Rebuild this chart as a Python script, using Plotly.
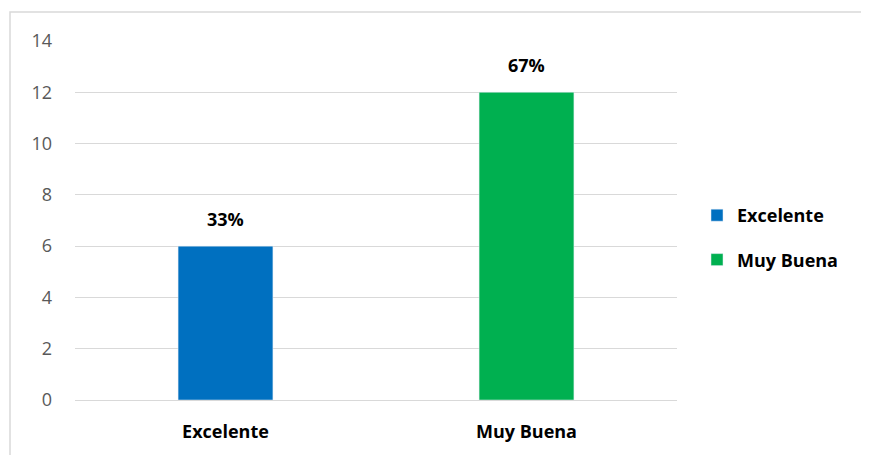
import plotly.graph_objects as go

categories = ["Excelente", "Muy Buena"]
values = [6, 12]
labels = ["33%", "67%"]
colors = ["#0070C0", "#00B050"]

W, H = 869, 455
OFF = 8  # page offset of the figure in the screenshot
L, R, T, B = 75 - OFF, 192 + OFF, 41 - OFF, 55 + OFF
pw = W - L - R
ph = H - T - B
FS = 18

fig = go.Figure()
for c, v, col in zip(categories, values, colors):
    fig.add_trace(go.Bar(
        x=[c], y=[v], name=c, marker_color=col, width=0.315,
        legendgroup=c,
    ))

for c, v, lab in zip(categories, values, labels):
    fig.add_annotation(x=c, y=v, text="<b>%s</b>" % lab, showarrow=False,
                       yanchor="bottom", yshift=13,
                       font=dict(family="Open Sans", size=FS, color="#000000"))

fig.update_layout(
    width=W, height=H, barmode="overlay",
    margin=dict(l=L, r=R, t=T, b=B),
    paper_bgcolor="white", plot_bgcolor="white",
    font=dict(family="Open Sans", size=FS, color="#595959"),
    xaxis=dict(categoryorder="array", categoryarray=categories,
               tickfont=dict(family="Open Sans", size=FS, color="#000000", weight="bold"),
               showline=False, ticks="", showgrid=False, ticklabelstandoff=19),
    yaxis=dict(range=[0, 14], dtick=2, gridcolor="#D9D9D9", gridwidth=1,
               zeroline=True, zerolinecolor="#D9D9D9", zerolinewidth=1,
               ticks="", ticklabelstandoff=22,
               tickfont=dict(family="Open Sans", size=FS, color="#595959")),
    legend=dict(x=(697 - OFF - L) / pw, y=(400 - 197) / ph, xanchor="left", yanchor="top",
                font=dict(family="Open Sans", size=FS, color="#000000", weight="bold"),
                itemwidth=30, tracegroupgap=18, bgcolor="rgba(0,0,0,0)"),
    showlegend=True,
    shapes=[dict(type="rect", xref="paper", yref="paper",
                 x0=(10 - OFF - L) / pw, x1=(W + 20 - L) / pw,
                 y0=(400 - (H + 20)) / ph, y1=(400 - 12) / ph,
                 line=dict(color="#D9D9D9", width=1.5), layer="below")],
)
fig.write_html("out.html")
